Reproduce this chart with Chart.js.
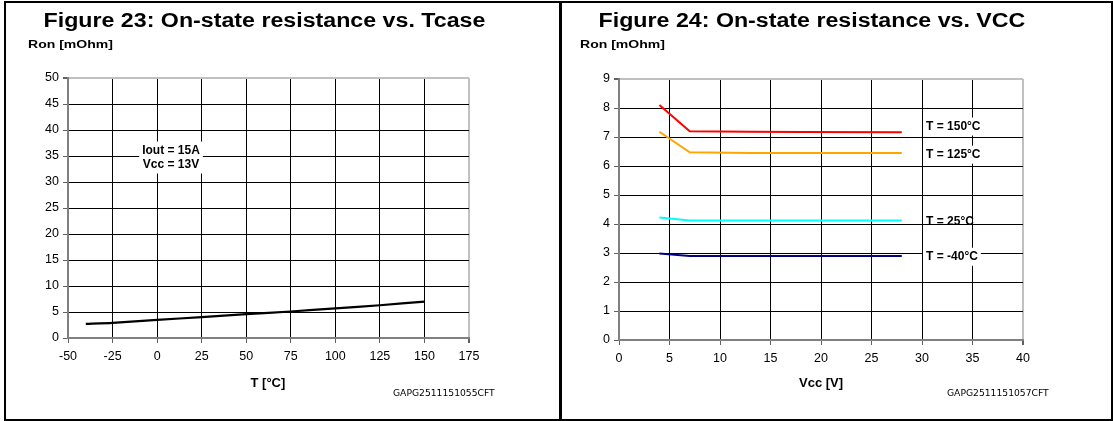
<!DOCTYPE html>
<html>
<head>
<meta charset="utf-8">
<script src="https://cdn.jsdelivr.net/npm/chart.js@4.4.1/dist/chart.umd.min.js"></script>
<style>
  html, body { margin: 0; padding: 0; background: #fff; }
  body { width: 1113px; height: 421px; position: relative; overflow: hidden;
         font-family: 'Liberation Sans', Arial, sans-serif; color: #000; }
  canvas { position: absolute; top: 0; }
  .frame { position: absolute; border: 2px solid #000; box-sizing: border-box; z-index: 2; pointer-events: none; }
  .txt { position: absolute; white-space: nowrap; z-index: 3; transform-origin: 50% 50%; }
  .title { font-weight: bold; font-size: 20px; }
  .ylab { font-weight: bold; font-size: 11.5px; transform-origin: 0 50%; transform: scaleX(1.22); }
  .xlab { font-weight: bold; font-size: 13px; }
  .code { font-family: 'DejaVu Sans', sans-serif; font-size: 9.2px; }
</style>
</head>
<body>
<canvas id="tcaseChart" width="556" height="421" style="left:0"></canvas>
<canvas id="vccChart" width="553" height="421" style="left:560px"></canvas>

<div class="frame" style="left:4px; top:1px; width:558px; height:420px"></div>
<div class="frame" style="left:559px; top:1px; width:554px; height:420px"></div>

<div class="txt title" id="t23" style="left:264px; top:9px">Figure 23: On-state resistance vs. Tcase</div>
<div class="txt title" id="t24" style="left:812px; top:9px">Figure 24: On-state resistance vs. VCC</div>
<div class="txt ylab" style="left:28px; top:38px">Ron [mOhm]</div>
<div class="txt ylab" style="left:580px; top:38px">Ron [mOhm]</div>
<div class="txt xlab" id="xl23" style="left:268px; top:375px">T [°C]</div>
<div class="txt xlab" id="xl24" style="left:821px; top:375px">Vcc [V]</div>
<div class="txt code" style="left:393px; top:387px">GAPG2511151055CFT</div>
<div class="txt code" style="left:947px; top:387px">GAPG2511151057CFT</div>

<script>
// Figure 23: Ron vs case temperature
const tempC = [-40, -25, 0, 25, 50, 75, 100, 125, 150];
const ronVsTemp = [2.7, 2.9, 3.5, 4.0, 4.6, 5.1, 5.7, 6.3, 7.0];
const tempTicks = [-50, -25, 0, 25, 50, 75, 100, 125, 150, 175];
const ronTicks23 = [0, 5, 10, 15, 20, 25, 30, 35, 40, 45, 50];

// Figure 24: Ron vs supply voltage, one curve per temperature
const vcc = [4, 7, 13, 18, 28];
const ron150 = [8.1, 7.2, 7.18, 7.17, 7.16];
const ron125 = [7.18, 6.47, 6.45, 6.45, 6.45];
const ron25 = [4.22, 4.12, 4.12, 4.12, 4.12];
const ronM40 = [2.98, 2.9, 2.9, 2.9, 2.9];
const curveNames = ['T = 150°C', 'T = 125°C', 'T = 25°C', 'T = -40°C'];
const vccTicks = [0, 5, 10, 15, 20, 25, 30, 35, 40];
const ronTicks24 = [0, 1, 2, 3, 4, 5, 6, 7, 8, 9];

const FONT = "'Liberation Sans', Arial, sans-serif";

// centre the html labels on their x position
document.querySelectorAll('.title, .xlab').forEach(el => {
    el.style.left = (parseFloat(el.style.left) - el.offsetWidth / 2) + 'px';
});
document.querySelectorAll('.title').forEach(el => { el.style.transform = 'scaleX(1.16)'; });

const toPts = (xs, ys) => xs.map((x, i) => ({ x: x, y: ys[i] }));

// text notes placed in data coordinates
const notesPlugin = {
    id: 'notes',
    afterDatasetsDraw(chart, args, opts) {
        const { ctx, scales } = chart;
        ctx.save();
        ctx.font = 'bold 12px ' + FONT;
        ctx.textBaseline = 'middle';
        (opts.items || []).forEach(n => {
            const px = scales.x.getPixelForValue(n.x);
            const py = scales.y.getPixelForValue(n.y);
            const lines = n.text.split('\n');
            const w = Math.max(...lines.map(l => ctx.measureText(l).width));
            const lh = 14;
            const left = n.align === 'center' ? px - w / 2 : px;
            if (n.bg) {
                ctx.fillStyle = '#fff';
                ctx.fillRect(left - 3, py - lines.length * lh / 2 - 2, w + 6, lines.length * lh + 4);
            }
            ctx.fillStyle = '#000';
            ctx.textAlign = 'left';
            lines.forEach((l, i) => {
                const lw = ctx.measureText(l).width;
                const lx = n.align === 'center' ? px - lw / 2 : px;
                ctx.fillText(l, lx, py + (i - (lines.length - 1) / 2) * lh);
            });
        });
        ctx.restore();
    }
};

function axis(min, max, step, ticks, pad, fitFn) {
    return {
        type: 'linear', min: min, max: max,
        afterFit: fitFn,
        afterBuildTicks: s => { s.ticks = ticks.map(v => ({ value: v })); },
        grid: {
            color: c => c.tick && c.tick.value === max ? '#c0c0c0' : (c.tick && c.tick.value === min ? '#808080' : '#000'),
            lineWidth: c => c.tick && c.tick.value === max ? 2 : 1,
            tickColor: '#606060', tickLength: 5
        },
        border: { color: '#808080', width: 2 },
        ticks: { stepSize: step, color: '#000', font: { family: FONT, size: 12.5 }, padding: pad, maxRotation: 0, autoSkip: false }
    };
}

const baseOpts = {
    responsive: false, animation: false,
    plugins: { legend: { display: false }, tooltip: { enabled: false } }
};

new Chart(document.getElementById('tcaseChart'), {
    type: 'line',
    data: {
        datasets: [{ data: toPts(tempC, ronVsTemp), borderColor: '#000', borderWidth: 2.2, pointRadius: 0, tension: 0.2 }]
    },
    options: {
        ...baseOpts,
        layout: { padding: { left: 28, right: 87, top: 78, bottom: 53 } },
        scales: {
            x: axis(-50, 175, 25, tempTicks, 6, s => { s.height = 30; }),
            y: axis(0, 50, 5, ronTicks23, 4, s => { s.width = 40; })
        },
        plugins: {
            ...baseOpts.plugins,
            notes: { items: [{ text: 'Iout = 15A\nVcc = 13V', x: 7.8, y: 34.7, align: 'center', bg: true }] }
        }
    },
    plugins: [notesPlugin]
});

new Chart(document.getElementById('vccChart'), {
    type: 'line',
    data: {
        datasets: [
            { label: curveNames[0], data: toPts(vcc, ron150), borderColor: '#ff0000' },
            { label: curveNames[1], data: toPts(vcc, ron125), borderColor: '#ffa500' },
            { label: curveNames[2], data: toPts(vcc, ron25),  borderColor: '#00ffff' },
            { label: curveNames[3], data: toPts(vcc, ronM40), borderColor: '#000080' }
        ].map(d => ({ ...d, borderWidth: 2, pointRadius: 0, tension: 0 }))
    },
    options: {
        ...baseOpts,
        layout: { padding: { left: 19, right: 90, top: 79, bottom: 51 } },
        scales: {
            x: axis(0, 40, 5, vccTicks, 6, s => { s.height = 30; }),
            y: axis(0, 9, 1, ronTicks24, 4, s => { s.width = 40; })
        },
        plugins: {
            ...baseOpts.plugins,
            notes: { items: [
                { text: curveNames[0], x: 30.4, y: 7.36, bg: true },
                { text: curveNames[1], x: 30.4, y: 6.39, bg: true },
                { text: curveNames[2], x: 30.4, y: 4.09, bg: false },
                { text: curveNames[3], x: 30.4, y: 2.87, bg: true }
            ] }
        }
    },
    plugins: [notesPlugin]
});
</script>
</body>
</html>
